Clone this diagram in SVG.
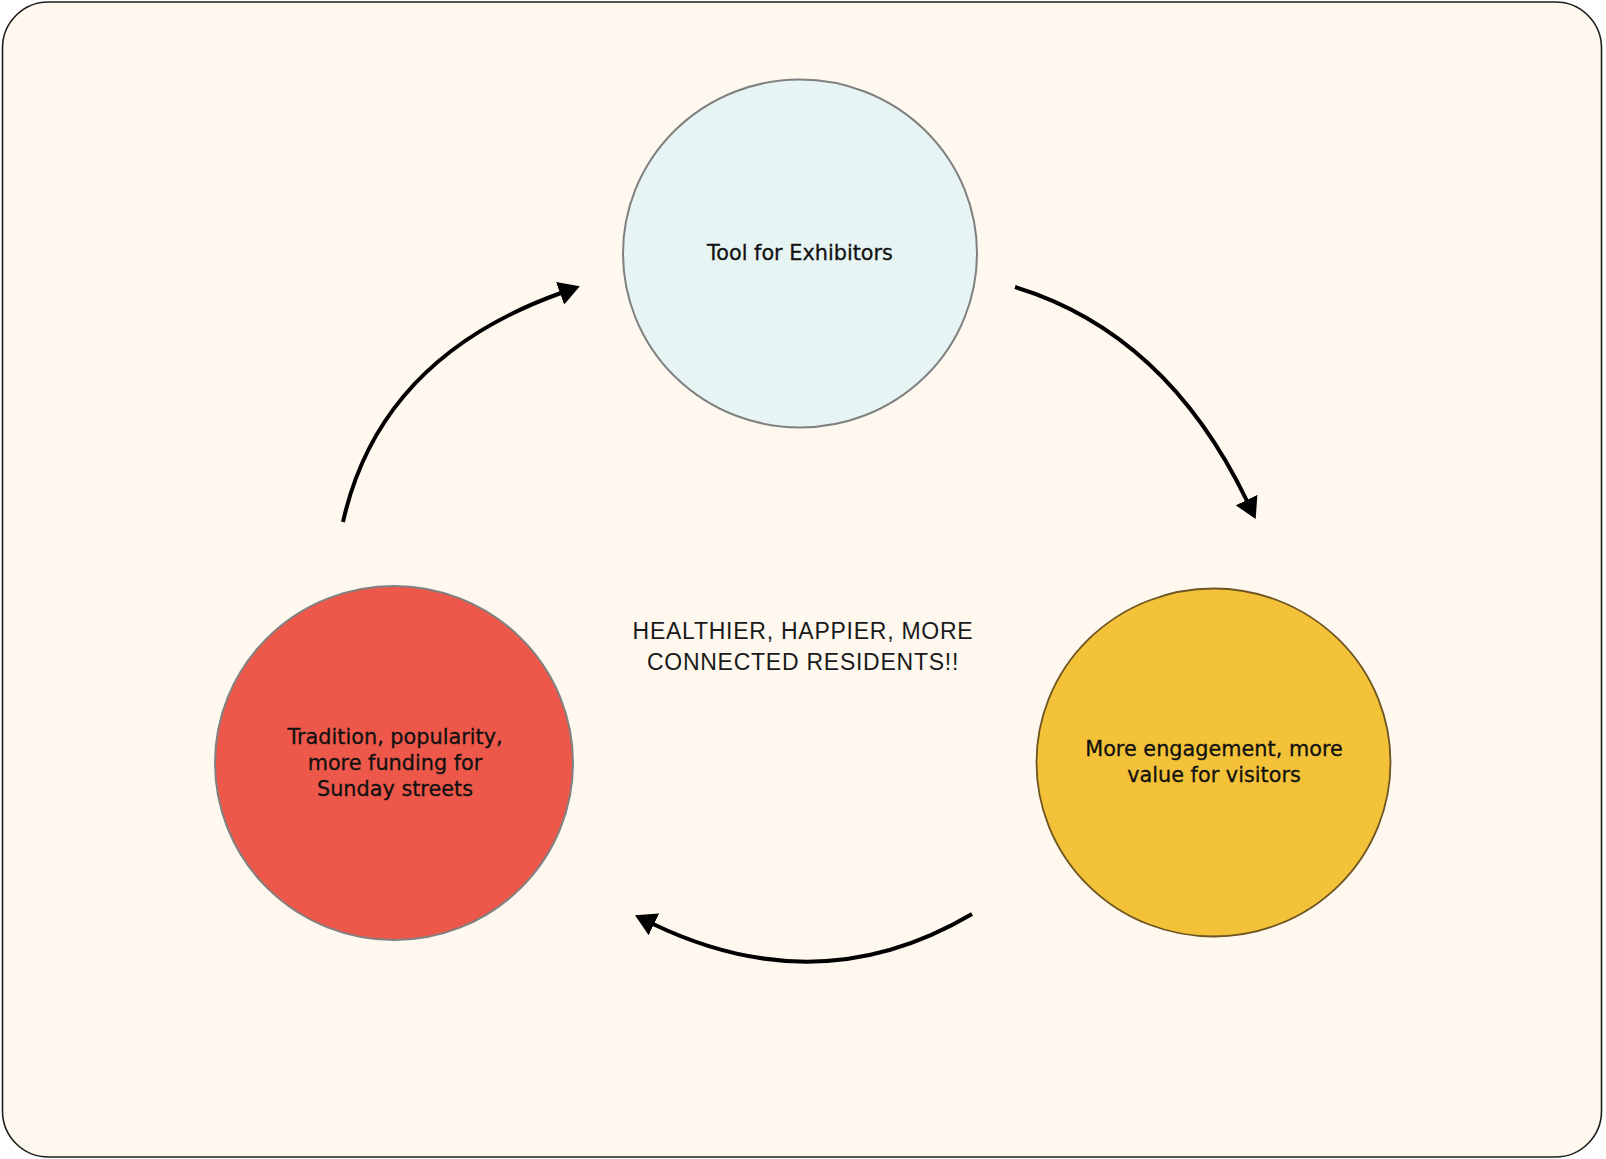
<svg xmlns="http://www.w3.org/2000/svg" width="1606" height="1159" viewBox="0 0 1606 1159">
<style>
.bg{fill:#fef8ee;stroke:#1e1e1e;stroke-width:1.6}
.node-text{font-family:"DejaVu Sans","Liberation Sans",sans-serif;font-size:20.8px;fill:#111;stroke:#111;stroke-width:0.3px;text-anchor:middle}
.center-text{font-family:"Liberation Sans",Arial,sans-serif;font-size:23px;letter-spacing:0.75px;fill:#1a1a1a;text-anchor:middle}
.conn{fill:none;stroke:#000;stroke-width:4;marker-end:url(#arrow)}
</style>
<defs>
<marker id="arrow" viewBox="0 0 21 24" refX="1" refY="12" markerWidth="21" markerHeight="24" markerUnits="userSpaceOnUse" orient="auto">
<path d="M0,0 L21,12 L0,24 Z" fill="#000"/>
</marker>
</defs>
<rect class="bg" x="2.5" y="2" width="1599" height="1155" rx="46" ry="46"/>
<g id="node-tool">
<ellipse cx="800" cy="253.5" rx="177" ry="174" fill="#e6f4f3" stroke="#808080" stroke-width="2"/>
<text class="node-text" x="800" y="260">Tool for Exhibitors</text>
</g>
<g id="node-engagement">
<ellipse cx="1213.5" cy="762.5" rx="177" ry="174" fill="#f4c238" stroke="#6e5522" stroke-width="1.8"/>
<text class="node-text" x="1214" y="756">More engagement, more</text>
<text class="node-text" x="1214" y="782">value for visitors</text>
</g>
<g id="node-tradition">
<ellipse cx="394" cy="763" rx="179" ry="177" fill="#ee584a" stroke="#808080" stroke-width="2"/>
<text class="node-text" x="395" y="744">Tradition, popularity,</text>
<text class="node-text" x="395" y="770">more funding for</text>
<text class="node-text" x="395" y="796">Sunday streets</text>
</g>
<g id="center-label">
<text class="center-text" x="803" y="638.5">HEALTHIER, HAPPIER, MORE</text>
<text class="center-text" x="803" y="669.5">CONNECTED RESIDENTS!!</text>
</g>
<g id="connectors">
<path class="conn" d="M343,522 Q379.4,358 561,293"/>
<path class="conn" d="M1015,287 Q1166,333 1247,501"/>
<path class="conn" d="M972,914 Q819.8,1004 653,924"/>
</g>
</svg>
